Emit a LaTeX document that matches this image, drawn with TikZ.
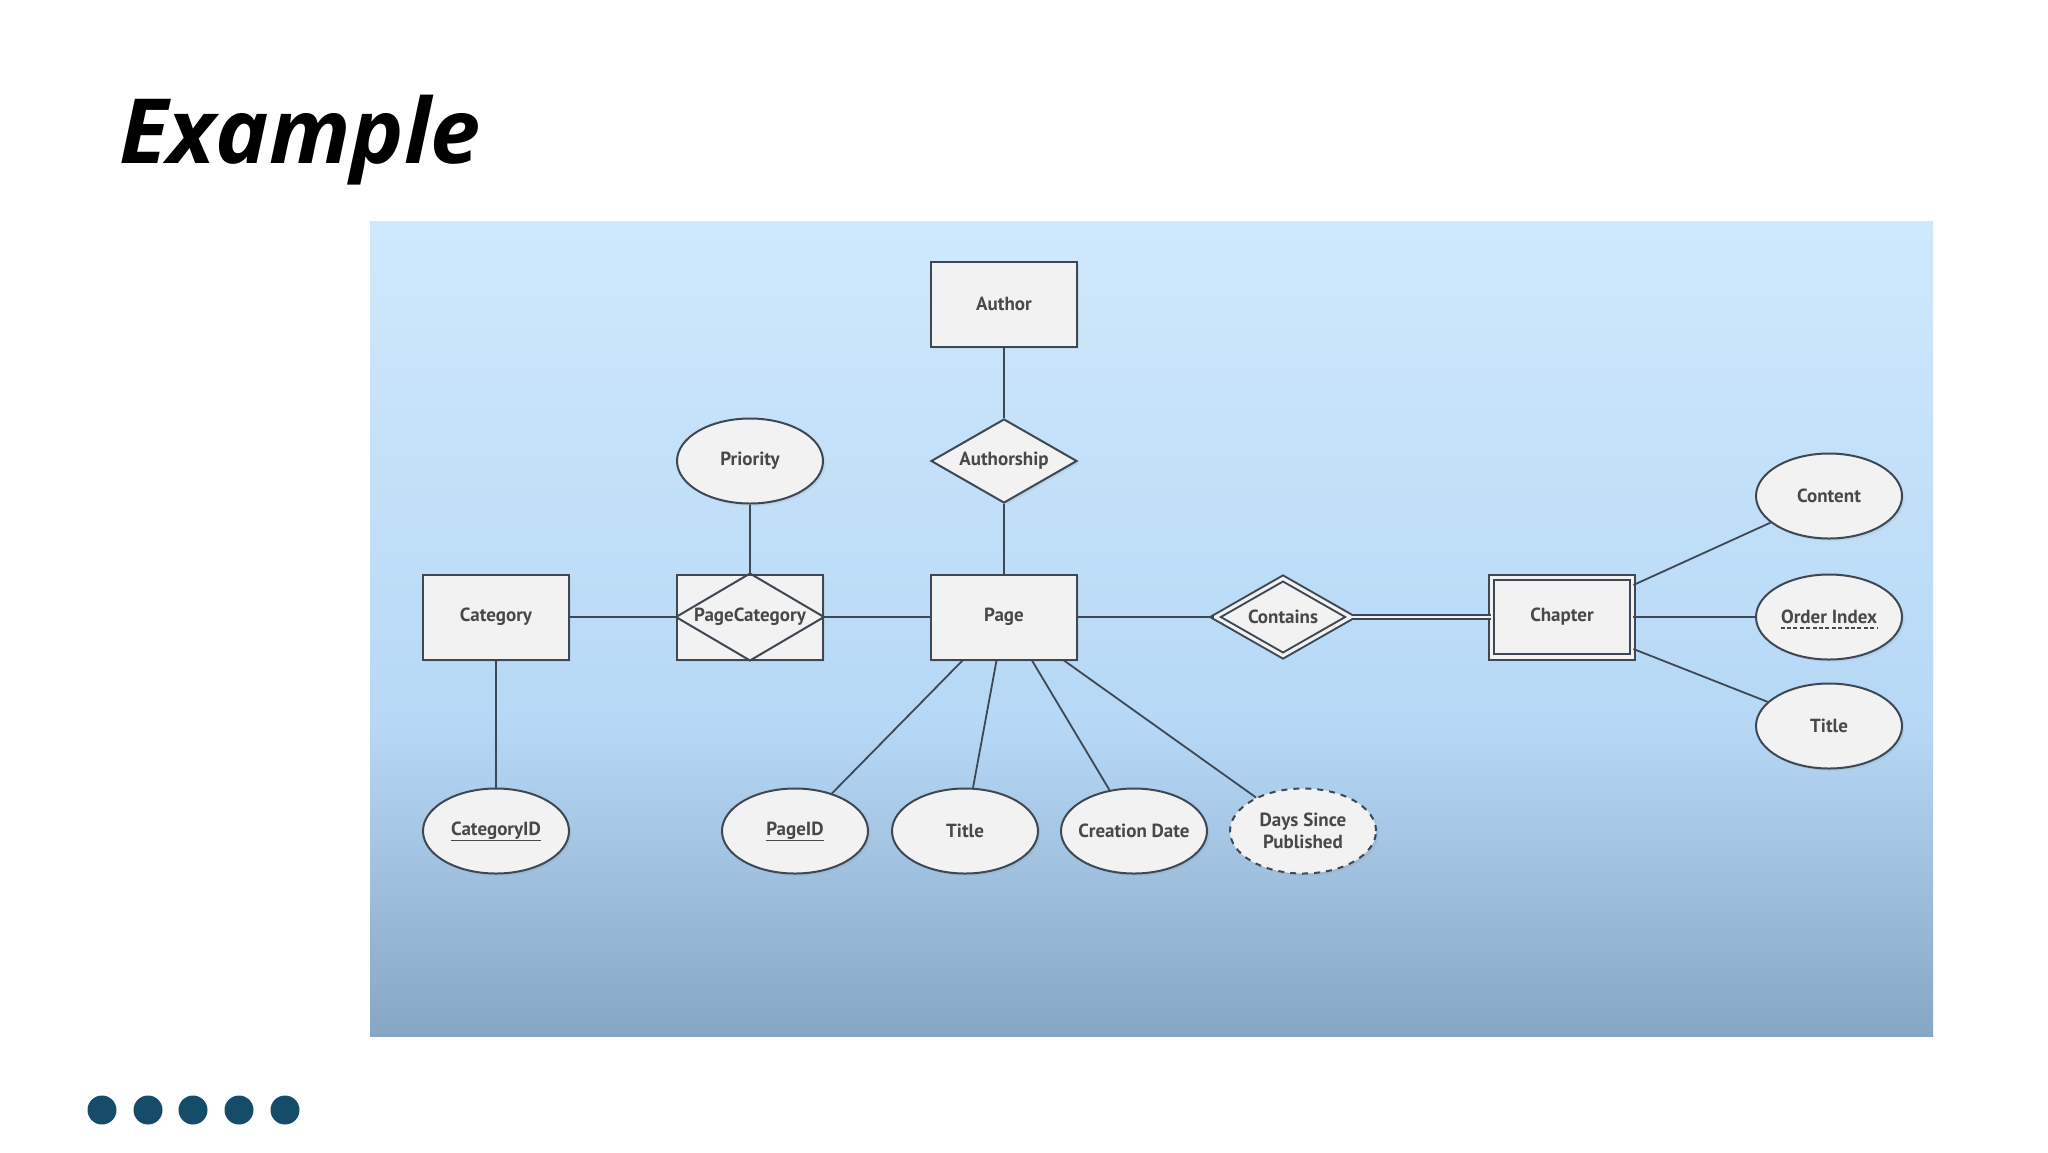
\documentclass[tikz,border=0pt]{standalone}
\usepackage{fontspec}
\setmainfont{Open Sans}
\newfontfamily\erfont{PT Sans}
\usetikzlibrary{shapes,shadows,calc}
\definecolor{erline}{RGB}{62,72,84}
\definecolor{erfill}{RGB}{242,242,242}
\definecolor{ertext}{RGB}{72,72,72}
\definecolor{dotc}{RGB}{20,76,106}
\definecolor{paneltop}{RGB}{208,232,251}
\definecolor{panelmid}{RGB}{182,216,246}
\definecolor{panelbot}{RGB}{134,166,198}
\pgfdeclareverticalshading{panelshade}{100bp}{color(0bp)=(panelbot); color(25bp)=(panelbot); color(44bp)=(panelmid); color(75bp)=(paneltop); color(100bp)=(paneltop)}

\begin{document}
\begin{tikzpicture}[x=0.5pt,y=-0.5pt]
      \tikzstyle{base}=[draw=erline,fill=erfill,line width=1pt,inner sep=0pt,text=ertext,
        font=\erfont\bfseries\fontsize{9.5}{11}\selectfont,align=center,
        drop shadow={opacity=0.12,shadow xshift=1.2pt,shadow yshift=-1.2pt}]
      \tikzstyle{entity}=[base,rectangle,minimum width=73pt,minimum height=42.5pt]
      \tikzstyle{weakentity}=[entity,double=erfill,double distance=1.6pt,minimum width=70.4pt,minimum height=39.9pt]
      \tikzstyle{relation}=[base,diamond,aspect=1.74,minimum width=73pt,minimum height=42pt]
      \tikzstyle{weakrelation}=[relation,double=erfill,double distance=1.6pt,minimum width=68pt,minimum height=39pt]
      \tikzstyle{attribute}=[base,ellipse,minimum width=73pt,minimum height=42.5pt]
      \tikzstyle{derived}=[attribute,dashed]
      \tikzstyle{keytext}=[inner sep=0pt,text=ertext,align=center,font=\erfont\bfseries\fontsize{9.5}{11}\selectfont]
      \tikzstyle{keyline}=[draw=ertext,line width=0.6pt]
      \tikzstyle{link}=[draw=erline,line width=0.9pt]

      \useasboundingbox (0,0) rectangle (2048,1152);
      \fill[white] (0,0) rectangle (2048,1152);
      \shade[shading=panelshade] (370,221) rectangle (1933,1036);

      \node[anchor=base west,font=\fontsize{45}{54}\selectfont\bfseries\itshape] (title) at (112,163) {Example};
      \foreach \x in {102,148,193,239,285} \fill[dotc] (\x,1110) circle (7.25pt);

      \node[entity] (author) at (1004,304) {Author};
      \node[relation] (authorship) at (1004,461) {Authorship};
      \node[entity] (page) at (1004,617) {Page};
      \node[entity] (category) at (496,617) {Category};
      \node[entity] (pagecat) at (750,617) {};
      \node[attribute] (priority) at (750,461) {Priority};
      \node[weakrelation] (contains) at (1283,617) {Contains};
      \node[weakentity] (chapter) at (1562,617) {Chapter};
      \node[attribute] (content) at (1829,496) {Content};
      \node[attribute] (orderidx) at (1829,617) {};
      \node[attribute] (chaptitle) at (1829,726) {Title};
      \node[attribute] (categoryid) at (496,831) {};
      \node[attribute] (pageid) at (795,831) {};
      \node[attribute] (pagetitle) at (965,831) {Title};
      \node[attribute] (created) at (1134,831) {};
      \node[derived] (days) at (1303,831) {};

      \node[keytext] (createdtext) at (created) {Creation Date};
      \node[keytext] (daystext) at (days) {Days Since\\Published};
      \node[keytext] (orderidxtext) at (orderidx) {Order Index};
      \node[keytext] (categoryidtext) at (categoryid) {CategoryID};
      \node[keytext] (pageidtext) at (pageid) {PageID};
      \draw[keyline,dash pattern=on 2pt off 1.2pt] ([yshift=-2.2pt]orderidxtext.base west) -- ([yshift=-2.2pt]orderidxtext.base east);
      \draw[keyline] ([yshift=-2.2pt]categoryidtext.base west) -- ([yshift=-2.2pt]categoryidtext.base east);
      \draw[keyline] ([yshift=-2.2pt]pageidtext.base west) -- ([yshift=-2.2pt]pageidtext.base east);

      \draw[erline,line width=1pt] (pagecat.north) -- (pagecat.east) -- (pagecat.south) -- (pagecat.west) -- cycle;
      \node[keytext] (pagecattext) at (pagecat) {PageCategory};

      \draw[link] (author) -- (authorship);
      \draw[link] (authorship) -- (page);
      \draw[link] (priority) -- (pagecat.north);
      \draw[link] (category) -- (pagecat.west);
      \draw[link] (pagecat.east) -- (page);
      \draw[link] (category) -- (categoryid);
      \draw[link] (page) -- (contains);
      \draw[link,double=erfill,double distance=1.4pt] (contains) -- (chapter);
      \draw[link] ([xshift=-20.75pt]page.south) -- (pageid);
      \draw[link] ([xshift=-3.75pt]page.south) -- (pagetitle);
      \draw[link] ([xshift=14pt]page.south) -- (created);
      \draw[link] ([xshift=30pt]page.south) -- (days);
      \draw[link] ([yshift=16pt]chapter.east) -- (content);
      \draw[link] (chapter) -- (orderidx);
      \draw[link] ([yshift=-16pt]chapter.east) -- (chaptitle);
\end{tikzpicture}
\end{document}
